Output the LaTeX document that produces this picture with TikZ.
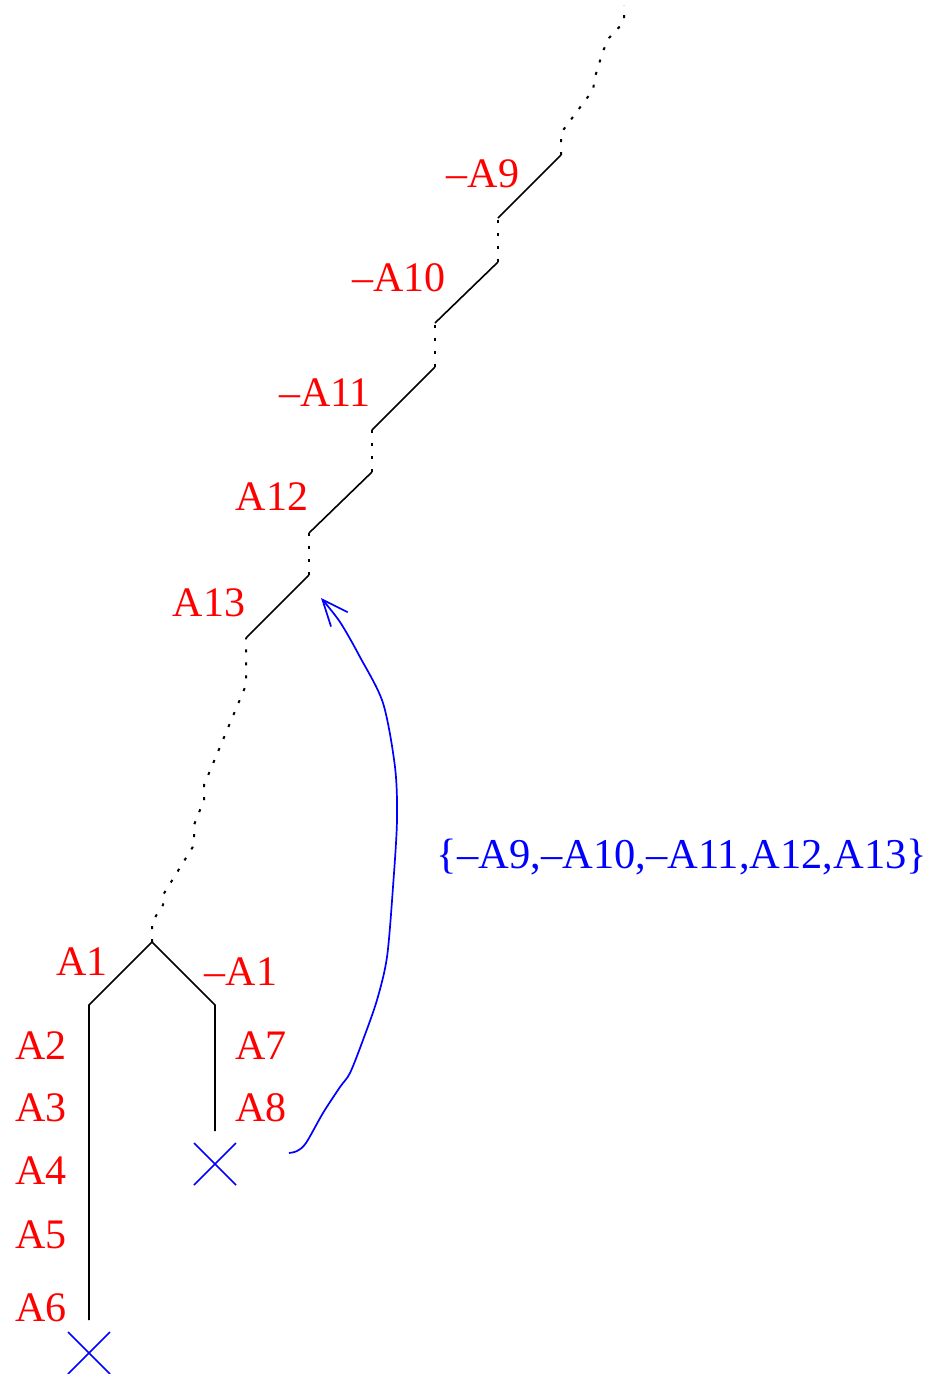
\documentclass[tikz,border=0pt]{standalone}
\usepackage{fontspec}
\setmainfont{Liberation Serif}
\usetikzlibrary{arrows.meta}
\begin{document}
\begin{tikzpicture}[x=1pt,y=-1pt,
  lbl/.style={text=red, font=\fontsize{42}{44}\selectfont, inner sep=0pt},
  setlbl/.style={text=blue, font=\fontsize{42.5}{44}\selectfont, inner sep=0pt},
  solidedge/.style={line width=1.6pt, black},
  dottededge/.style={line width=2pt, black, dash pattern=on 3pt off 10pt},
  xmark/.style={blue, line width=1.7pt},
  backarrow/.style={blue, line width=1.7pt, -{Straight Barb[length=26pt,width=22pt]}}]
\useasboundingbox (0,0) rectangle (933,1374);
% tree vertices
\coordinate (root) at (152,942);
\coordinate (l0) at (89,1005);
\coordinate (l1) at (89,1320);
\coordinate (r0) at (215,1005);
\coordinate (r1) at (215,1131);
% chain vertices
\coordinate (c13b) at (246,638);
\coordinate (c13t) at (309,575);
\coordinate (c12b) at (309,533);
\coordinate (c12t) at (372,472);
\coordinate (c11b) at (372,430);
\coordinate (c11t) at (435,367);
\coordinate (c10b) at (435,323);
\coordinate (c10t) at (498,262);
\coordinate (c9b) at (498,218);
\coordinate (c9t) at (561,155);
\coordinate (top) at (624,5);
% solid edges
\draw[solidedge] (l1) -- (l0) -- (root) -- (r0) -- (r1);
\draw[solidedge] (c13b) -- (c13t);
\draw[solidedge] (c12b) -- (c12t);
\draw[solidedge] (c11b) -- (c11t);
\draw[solidedge] (c10b) -- (c10t);
\draw[solidedge] (c9b) -- (c9t);
% dotted edges
\draw[dottededge] (root) -- (152,922) -- (163,905) -- (163,895) -- (194,845) -- (194,825) -- (204,800) -- (204,785) -- (246,685) -- (c13b);
\draw[dottededge] (c13t) -- (c12b);
\draw[dottededge] (c12t) -- (c11b);
\draw[dottededge] (c11t) -- (c10b);
\draw[dottededge] (c10t) -- (c9b);
\draw[dottededge] (c9t) -- (561,133) -- (593,90) -- (595,77) -- (603,51) -- (609,38) -- (624,22) -- (top);
% crosses
\coordinate (xr) at (215,1164);
\coordinate (xl) at (89,1353);
\draw[xmark] ([shift={(-21,-21)}]xr) -- ([shift={(21,21)}]xr) ([shift={(-21,21)}]xr) -- ([shift={(21,-21)}]xr);
\draw[xmark] ([shift={(-21,-21)}]xl) -- ([shift={(21,21)}]xl) ([shift={(-21,21)}]xl) -- ([shift={(21,-21)}]xl);
% labels
\node[lbl] (lA9) at (483,174) {\textendash A9};
\node[lbl] (lA10) at (399,278) {\textendash A10};
\node[lbl] (lA11) at (325,393) {\textendash A11};
\node[lbl] (lA12) at (272,497) {A12};
\node[lbl] (lA13) at (209,603) {A13};
\node[lbl] (lA1) at (82,962) {A1};
\node[lbl] (lnA1) at (241,972) {\textendash A1};
\node[lbl] (lA2) at (41,1046) {A2};
\node[lbl] (lA3) at (41,1108) {A3};
\node[lbl] (lA4) at (41,1171) {A4};
\node[lbl] (lA5) at (41,1235) {A5};
\node[lbl] (lA6) at (41,1308) {A6};
\node[lbl] (lA7) at (261,1046) {A7};
\node[lbl] (lA8) at (261,1108) {A8};
\node[setlbl] (lset) at (682,857) {\{\textendash A9,\textendash A10,\textendash A11,A12,A13\}};
% back arrow
\coordinate (bs) at (289,1153);
\coordinate (be) at (321,598);
\draw[backarrow] plot[smooth, tension=0.5] coordinates {(bs) (297,1151) (306,1143) (323,1113) (340,1087) (350,1073) (363,1040) (377,1000) (387,957) (393,887) (397,820) (395,767) (383,703) (360,657) (340,622) (be)};
\end{tikzpicture}
\end{document}
